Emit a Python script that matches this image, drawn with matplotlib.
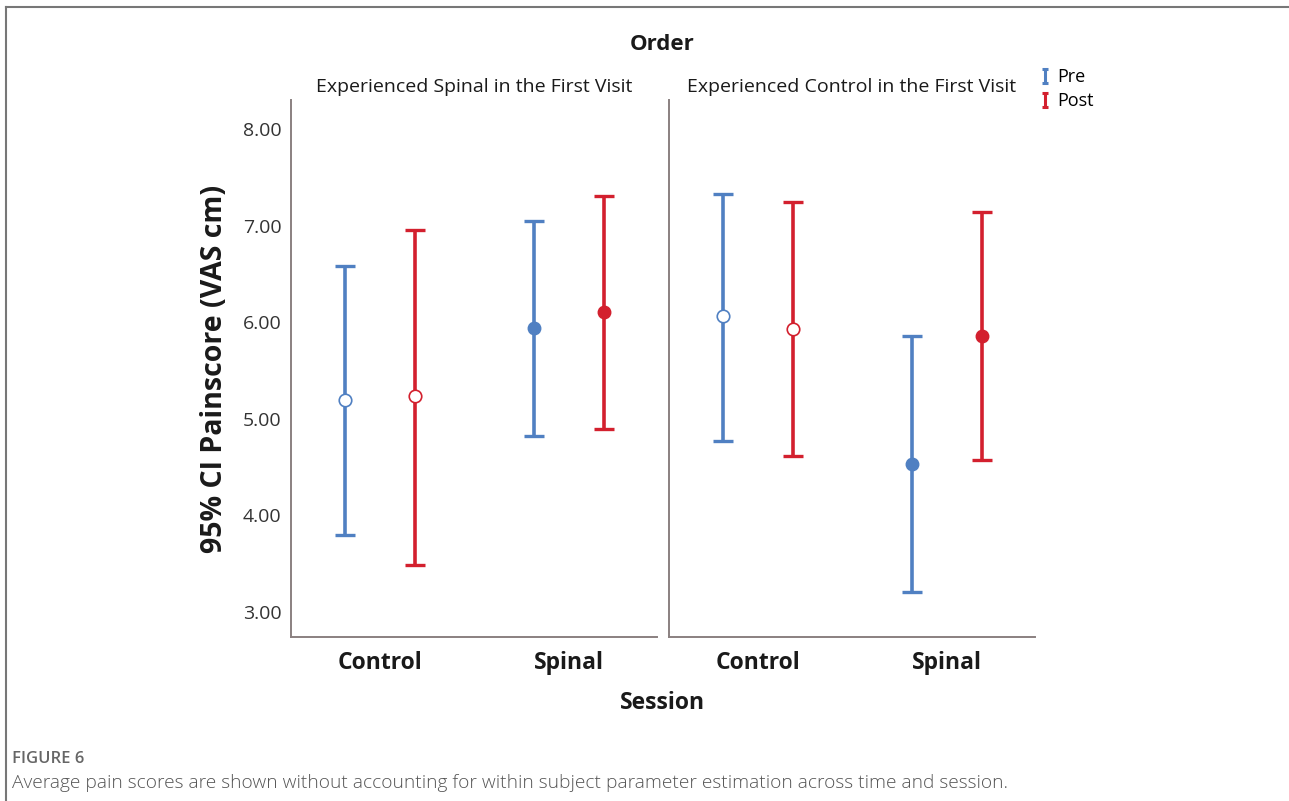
import matplotlib
matplotlib.use("Agg")
import matplotlib.pyplot as plt
from matplotlib.lines import Line2D
from matplotlib.path import Path

# data (95% CI of pain score, VAS cm)
sessions = ["Control", "Spinal"]
panels = ["Experienced Spinal in the First Visit", "Experienced Control in the First Visit"]

# panel 1: spinal first
p1_pre_mean = [5.19, 5.94]
p1_pre_low = [3.80, 4.82]
p1_pre_high = [6.58, 7.05]
p1_post_mean = [5.23, 6.10]
p1_post_low = [3.49, 4.89]
p1_post_high = [6.95, 7.31]

# panel 2: control first
p2_pre_mean = [6.06, 4.53]
p2_pre_low = [4.77, 3.21]
p2_pre_high = [7.33, 5.86]
p2_post_mean = [5.93, 5.86]
p2_post_low = [4.61, 4.57]
p2_post_high = [7.24, 7.14]

# filled marker for the spinal session, open for control (as in source)
filled = {0: [False, True], 1: [False, True]}

BLUE = "#5080c2"
RED = "#d3202e"
SPINE = "#8a8080"
FONT = "Open Sans"

plt.rcParams["font.family"] = [FONT, "DejaVu Sans"]

fig = plt.figure(figsize=(12.89, 8.01), dpi=100)

# outer frame (top and left only, like the journal page crop)
fig.add_artist(Line2D([0.005, 1.0], [0.991, 0.991], color="#777777", lw=1.5,
                      transform=fig.transFigure))
fig.add_artist(Line2D([0.005, 0.005], [0.0, 0.991], color="#777777", lw=1.5,
                      transform=fig.transFigure))

ax1 = fig.add_axes([0.2258, 0.2048, 0.2839, 0.6704])
ax2 = fig.add_axes([0.5190, 0.2048, 0.2839, 0.6704])

groups = [
    (p1_pre_mean, p1_pre_low, p1_pre_high, p1_post_mean, p1_post_low, p1_post_high),
    (p2_pre_mean, p2_pre_low, p2_pre_high, p2_post_mean, p2_post_low, p2_post_high),
]

dodge = 0.184
for i, (ax, g) in enumerate(zip([ax1, ax2], groups)):
    pre_m, pre_lo, pre_hi, post_m, post_lo, post_hi = g
    for j in range(len(sessions)):
        for off, m, lo, hi, col in [(-dodge, pre_m, pre_lo, pre_hi, BLUE),
                                    (dodge, post_m, post_lo, post_hi, RED)]:
            x = j + off
            ax.errorbar([x], [m[j]], yerr=[[m[j] - lo[j]], [hi[j] - m[j]]],
                        fmt="none", ecolor=col, elinewidth=2.6, capsize=7.5,
                        capthick=2.4, zorder=2)
            if filled[i][j]:
                ax.plot([x], [m[j]], "o", color=col, ms=9, zorder=3)
            else:
                ax.plot([x], [m[j]], "o", mfc="white", mec=col, mew=1.2,
                        ms=9, zorder=3)

    ax.set_xlim(-0.47, 1.465)
    ax.set_ylim(2.74, 8.30)
    ax.set_xticks(range(len(sessions)))
    ax.set_xticklabels(sessions, fontsize=16.5, fontweight="bold", color="#1a1a1a")
    ax.set_yticks([3, 4, 5, 6, 7, 8])
    ax.tick_params(length=0)
    ax.tick_params(axis="x", pad=10)
    for s in ["top", "right"]:
        ax.spines[s].set_visible(False)
    for s in ["left", "bottom"]:
        ax.spines[s].set_color(SPINE)
        ax.spines[s].set_linewidth(1.4)
    ax.set_title(panels[i], fontsize=14, color="#1a1a1a", pad=6)

ax1.set_yticklabels([f"{v:.2f}" for v in [3, 4, 5, 6, 7, 8]], fontsize=14,
                    color="#333333")
ax1.tick_params(axis="y", pad=7)
ax2.set_yticklabels([])

ax1.set_ylabel("95% CI Painscore (VAS cm)", fontsize=20.5, fontweight="bold",
               color="#1a1a1a", labelpad=10)

fig.text(0.514, 0.945, "Order", ha="center", va="center", fontsize=16,
         fontweight="bold", color="#1a1a1a")
fig.text(0.514, 0.122, "Session", ha="center", va="center", fontsize=16.5,
         fontweight="bold", color="#1a1a1a")

# legend with an "I" shaped error-bar glyph
ibar = Path([(-0.5, -1), (0.5, -1), (0, -1), (0, 1), (-0.5, 1), (0.5, 1)],
            [Path.MOVETO, Path.LINETO, Path.MOVETO, Path.LINETO,
             Path.MOVETO, Path.LINETO])
handles = [Line2D([], [], ls="none", marker=ibar, ms=9.5, mec=BLUE, mew=2.2),
           Line2D([], [], ls="none", marker=ibar, ms=9.5, mec=RED, mew=2.2)]
fig.legend(handles, ["Pre", "Post"], loc="upper left",
           bbox_to_anchor=(0.807, 0.9145), frameon=False, fontsize=13,
           handlelength=0.5, handletextpad=0.45, labelspacing=0.3,
           borderaxespad=0, borderpad=0,
           prop={"size": 13, "weight": "medium"})

fig.text(0.0095, 0.052, "FIGURE 6", fontsize=12, color="#666666",
         ha="left", va="center", fontweight="semibold")
fig.text(0.0095, 0.022,
         "Average pain scores are shown without accounting for within subject "
         "parameter estimation across time and session.",
         fontsize=13.8, color="#555555", ha="left", va="center",
         fontweight="light")

fig.savefig("out.png", dpi=100)
